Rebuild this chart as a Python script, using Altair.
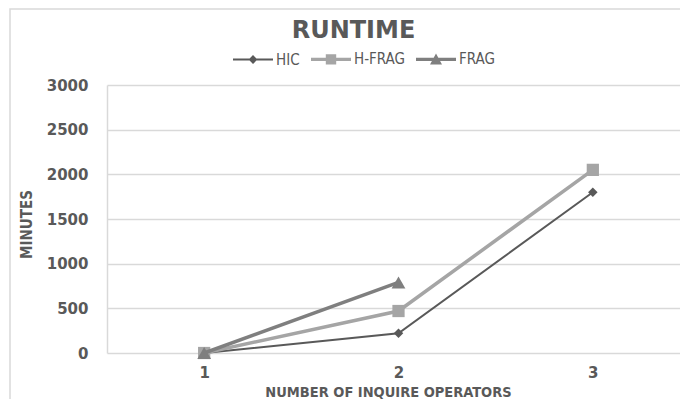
import altair as alt
import pandas as pd

# ---- data ----
operators = ["1", "2", "3"]
series_names = ["HIC", "H-FRAG", "FRAG"]
hic_minutes = [0, 220, 1800]
hfrag_minutes = [0, 470, 2050]
frag_minutes = [0, 790, None]
y_ticks = [0, 500, 1000, 1500, 2000, 2500, 3000]

# ---- styles ----
series_colors = ["#595959", "#A5A5A5", "#7F7F7F"]
line_widths = [2, 3.5, 3.5]
marker_shapes = ["diamond", "square", "triangle-up"]
marker_sizes = [90, 150, 190]
legend_paths = [
    "M-1,-0.05H1V0.05H-1Z M0,-0.22L0.22,0L0,0.22L-0.22,0Z",
    "M-1,-0.08H1V0.08H-1Z M-0.26,-0.26H0.26V0.26H-0.26Z",
    "M-1,-0.08H1V0.08H-1Z M0,-0.3L0.3,0.26H-0.3Z",
]
TEXT = "#595959"
GRID = "#D9D9D9"
LABEL_FONT = "DejaVu Sans"
NARROW_FONT = "DejaVu Sans Condensed"

rows = []
for name, vals in zip(series_names, [hic_minutes, hfrag_minutes, frag_minutes]):
    for op, v in zip(operators, vals):
        if v is not None:
            rows.append({"operators": op, "minutes": v, "series": name})
df = pd.DataFrame(rows)

color_scale = alt.Scale(domain=series_names, range=series_colors)

x_enc = alt.X(
    "operators:O",
    scale=alt.Scale(type="point", padding=0.5, range=[0, 583]),
    axis=alt.Axis(
        title="NUMBER OF INQUIRE OPERATORS",
        labelAngle=0,
        domain=False,
        ticks=False,
        grid=False,
        labelPadding=12,
        labelFont=LABEL_FONT,
        labelFontWeight="bold",
        labelFontSize=15,
        labelColor=TEXT,
        titleFont=NARROW_FONT,
        titleFontWeight="bold",
        titleFontSize=14.5,
        titleColor=TEXT,
        titleX=281,
        titleY=39,
        titleBaseline="middle",
    ),
)
y_enc = alt.Y(
    "minutes:Q",
    scale=alt.Scale(domain=[0, 3000], nice=False),
    axis=alt.Axis(
        title="MINUTES",
        values=y_ticks,
        format="d",
        grid=True,
        gridColor=GRID,
        gridWidth=1.5,
        domain=True,
        domainColor=GRID,
        domainWidth=1.5,
        ticks=False,
        labelPadding=19,
        labelFont=LABEL_FONT,
        labelFontWeight="bold",
        labelFontSize=15,
        labelColor=TEXT,
        titleFont=NARROW_FONT,
        titleFontWeight="bold",
        titleFontSize=15,
        titleColor=TEXT,
        titleX=-81,
        titleY=139,
        titleAngle=270,
        titleAlign="center",
        titleBaseline="middle",
    ),
)

# frame around the whole chart
frame = alt.Chart(pd.DataFrame({"f": [0]})).mark_rect(
    filled=False, stroke=GRID, strokeWidth=1.5
).encode(
    x=alt.value(-97), x2=alt.value(700), y=alt.value(-76), y2=alt.value(420)
)

layers = [frame]
for i, name in enumerate(series_names):
    base = alt.Chart(df).transform_filter(alt.datum.series == name).encode(
        x=x_enc,
        y=y_enc,
        color=alt.Color("series:N", scale=color_scale, legend=None),
    )
    layers.append(base.mark_line(strokeWidth=line_widths[i]))
    layers.append(
        base.mark_point(
            shape=marker_shapes[i], size=marker_sizes[i], filled=True, opacity=1
        )
    )

legend_kw = dict(
    title=None,
    orient="none",
    direction="horizontal",
    legendX=125,
    legendY=-47,
    symbolSize=1600,
    symbolOpacity=1,
    labelFont=NARROW_FONT,
    labelFontSize=15,
    labelColor=TEXT,
    labelOffset=2,
    columnPadding=8,
    padding=0,
)
legend_layer = alt.Chart(df).mark_point(
    filled=True, size=1600, opacity=0
).encode(
    x=x_enc,
    y=y_enc,
    color=alt.Color("series:N", scale=color_scale, legend=alt.Legend(**legend_kw)),
    shape=alt.Shape(
        "series:N",
        scale=alt.Scale(domain=series_names, range=legend_paths),
        legend=alt.Legend(**legend_kw),
    ),
)
layers.append(legend_layer)

chart = (
    alt.layer(*layers)
    .resolve_legend(color="independent", shape="independent")
    .properties(
        width=573,
        height=268,
        autosize=alt.AutoSizeParams(type="none"),
        padding={"left": 99, "top": 77, "right": 0, "bottom": 46},
        title=alt.TitleParams(
            "RUNTIME",
            font=LABEL_FONT,
            fontSize=24,
            fontWeight="bold",
            color=TEXT,
            anchor="middle",
            dx=-40,
            offset=-35,
        ),
    )
    .configure_view(stroke=None)
)

chart.save("out.html", embed_options={"renderer": "svg", "actions": False})
